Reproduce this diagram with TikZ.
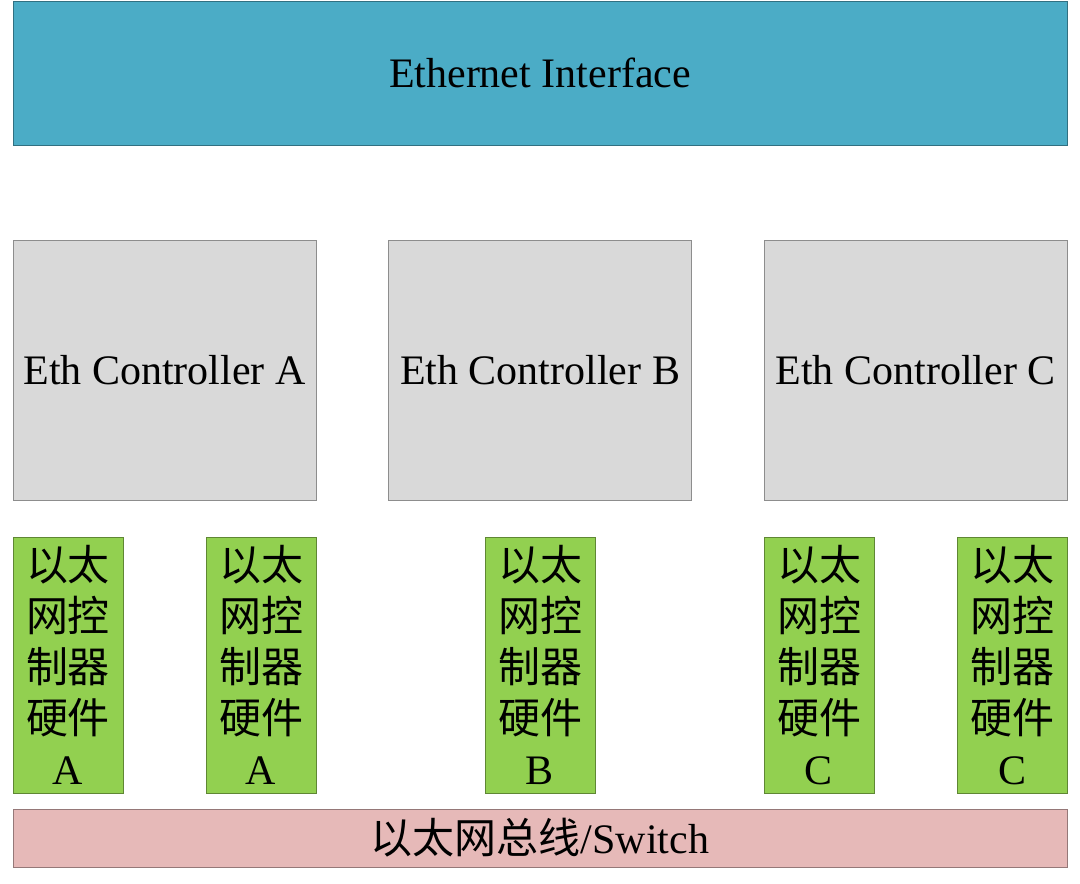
\documentclass[tikz,border=0pt]{standalone}
\usepackage{fontspec}
\setmainfont{Liberation Serif}
\newfontfamily\cjk{Noto Sans CJK SC}
\usetikzlibrary{positioning}

\definecolor{ifaceblue}{HTML}{4BACC6}
\definecolor{ctrlgray}{HTML}{D9D9D9}
\definecolor{hwgreen}{HTML}{92D050}
\definecolor{buspink}{HTML}{E6B9B8}

% stacked label of one hardware box
\newcommand{\hwlabel}[1]{{\cjk 以太}\\{\cjk 网控}\\{\cjk 制器}\\{\cjk 硬件}\\#1}

\begin{document}
\begin{tikzpicture}[
    x=1pt, y=-1pt,
    box/.style={rectangle, draw=#1!65!black, line width=1pt, fill=#1, inner sep=0pt,
        font=\fontsize{42}{51}\selectfont, align=center},
    box/.default={white},
    ctrl/.style={box=ctrlgray, minimum width=303pt, minimum height=260pt},
    hw/.style={box=hwgreen, minimum width=110pt, minimum height=256pt},
]
    \useasboundingbox (0,0) rectangle (1080,884);

    % Interface on top
    \node[box=ifaceblue, minimum width=1054pt, minimum height=144pt] (iface) at (540,73) {Ethernet Interface};

    % Controllers
    \node[ctrl] (ctrlA) at (164.5,370) {Eth Controller A};
    \node[ctrl, right=71.5pt of ctrlA] (ctrlB) {Eth Controller B};
    \node[ctrl, right=71.5pt of ctrlB] (ctrlC) {Eth Controller C};

    % Hardware under each controller
    \node[hw, below=36pt of ctrlA.south west, anchor=north west] (hwA1) {\hwlabel{A}};
    \node[hw, below=36pt of ctrlA.south east, anchor=north east] (hwA2) {\hwlabel{A}};
    \node[hw, below=36pt of ctrlB] (hwB) {\hwlabel{B}};
    \node[hw, below=36pt of ctrlC.south west, anchor=north west] (hwC1) {\hwlabel{C}};
    \node[hw, below=36pt of ctrlC.south east, anchor=north east] (hwC2) {\hwlabel{C}};

    % Bus
    \node[box=buspink, minimum width=1054pt, minimum height=58pt] (bus) at (540,838) {{\cjk 以太网总线}/Switch};
\end{tikzpicture}
\end{document}
